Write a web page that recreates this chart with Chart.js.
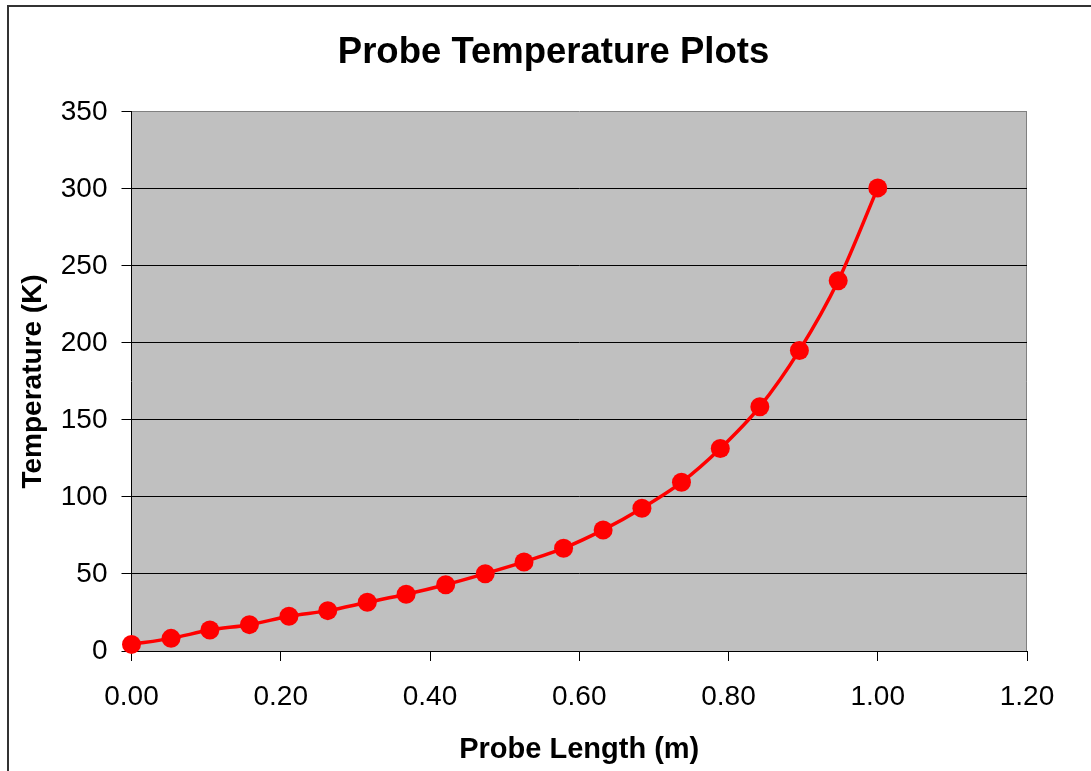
<!DOCTYPE html>
<html>
<head>
<meta charset="utf-8">
<script src="https://cdn.jsdelivr.net/npm/chart.js"></script>
<style>
  html, body { margin: 0; padding: 0; background: #fff; overflow: hidden; }
  #frame {
    position: absolute; left: 7px; top: 5px; width: 1200px; height: 900px;
    border-left: 2px solid #333; border-top: 2px solid #333;
  }
  #wrap { position: absolute; left: 0; top: 0; width: 1091px; height: 771px; }
</style>
</head>
<body>
<div id="frame"></div>
<div id="wrap"><canvas id="probe-chart" width="1091" height="771"></canvas></div>
<script>
// probe length along the rod (m)
const probeLength = [0.000, 0.053, 0.105, 0.158, 0.211, 0.263, 0.316, 0.368, 0.421, 0.474,
  0.526, 0.579, 0.632, 0.684, 0.737, 0.789, 0.842, 0.895, 0.947, 1.000];
// temperature read at each point (K)
const temperature = [4.3, 8.2, 13.6, 17.1, 22.5, 26.2, 31.6, 36.8, 43.0, 50.2,
  57.8, 66.7, 78.6, 92.7, 109.5, 131.4, 158.6, 195.1, 240.3, 300.6];
// axis ranges
const xTicks = [0, 0.2, 0.4, 0.6, 0.8, 1.0, 1.2];
const yTicks = [0, 50, 100, 150, 200, 250, 300, 350];

const fontFamily = "'Liberation Sans', Arial, sans-serif";

// grey plot area with grey right edge, like the spreadsheet chart
const plotBackground = {
  id: 'plotBackground',
  beforeDraw(chart) {
    const { ctx, chartArea: a } = chart;
    ctx.save();
    ctx.fillStyle = '#c0c0c0';
    ctx.fillRect(a.left, a.top, a.width, a.height);
    ctx.strokeStyle = '#808080';
    ctx.lineWidth = 1;
    ctx.beginPath();
    ctx.moveTo(Math.round(a.right) - 0.5, a.top);
    ctx.lineTo(Math.round(a.right) - 0.5, a.bottom);
    ctx.stroke();
    ctx.restore();
  }
};

const points = probeLength.map((x, i) => ({ x: x, y: temperature[i] }));

new Chart(document.getElementById('probe-chart').getContext('2d'), {
  type: 'line',
  data: {
    datasets: [{
      data: points,
      borderColor: '#ff0000',
      backgroundColor: '#ff0000',
      borderWidth: 3.5,
      pointRadius: 9.5,
      pointBorderWidth: 0,
      pointBackgroundColor: '#ff0000',
      tension: 0.3,
      clip: false
    }]
  },
  plugins: [plotBackground],
  options: {
    responsive: false,
    animation: false,
    layout: { padding: { left: 16, right: 0, top: 0, bottom: 4 } },
    plugins: {
      legend: { display: false },
      tooltip: { enabled: false },
      title: {
        display: true,
        text: 'Probe Temperature Plots',
        color: '#000',
        font: { family: fontFamily, size: 36.5, weight: 'bold', lineHeight: 1.2 },
        padding: { top: 31, bottom: 37 }
      }
    },
    scales: {
      x: {
        type: 'linear',
        min: xTicks[0],
        max: xTicks[xTicks.length - 1],
        afterBuildTicks(scale) { scale.ticks = xTicks.map(v => ({ value: v })); },
        afterFit(scale) { scale.height = 116; },
        ticks: {
          color: '#000',
          padding: 19,
          font: { family: fontFamily, size: 28, lineHeight: 1.2 },
          callback: v => Number(v).toFixed(2)
        },
        grid: { drawOnChartArea: false, drawTicks: true, tickLength: 10, color: '#000', lineWidth: 1 },
        border: { display: true, color: '#000', width: 1 },
        title: {
          display: true,
          text: 'Probe Length (m)',
          color: '#000',
          font: { family: fontFamily, size: 29, weight: 'bold', lineHeight: 1.2 },
          padding: { top: 0, bottom: 0 }
        }
      },
      y: {
        type: 'linear',
        position: 'left',
        min: yTicks[0],
        max: yTicks[yTicks.length - 1],
        afterBuildTicks(scale) { scale.ticks = yTicks.map(v => ({ value: v })); },
        afterFit(scale) { scale.width = 115.5; },
        ticks: {
          color: '#000',
          padding: 14,
          font: { family: fontFamily, size: 28, lineHeight: 1.2 }
        },
        grid: {
          drawOnChartArea: true,
          drawTicks: true,
          tickLength: 10,
          color: ctx => (ctx.tick && ctx.tick.value === 350 ? '#808080' : '#000'),
          tickColor: '#000',
          lineWidth: 1
        },
        border: { display: true, color: '#000', width: 1 },
        title: {
          display: true,
          text: 'Temperature (K)',
          color: '#000',
          font: { family: fontFamily, size: 28, weight: 'bold', lineHeight: 1.2 },
          padding: { top: 0, bottom: 0 }
        }
      },
      // empty box on the right so the title centres over the whole chart
      spacer: {
        type: 'linear',
        axis: 'y',
        position: 'right',
        afterFit(scale) { scale.width = 64; },
        ticks: { display: false },
        grid: { display: false },
        border: { display: false }
      }
    }
  }
});
</script>
</body>
</html>
